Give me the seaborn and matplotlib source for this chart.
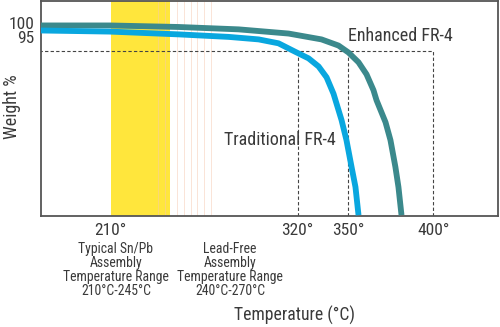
import matplotlib
matplotlib.use("Agg")
import matplotlib.pyplot as plt
import seaborn as sns
import pandas as pd

# Data
trad_temp = [168.2, 209.4, 250.0, 279.4, 297.1, 308.8, 318.2, 326.5, 332.4, 337.1,
             341.2, 345.9, 348.8, 351.8, 354.1, 355.9]
trad_weight = [97.5, 97.1, 96.1, 95.2, 94.3, 92.9, 90.0, 87.5, 84.6, 80.7,
               74.8, 65.4, 58.2, 48.6, 41.4, 31.3]
enh_temp = [168.2, 209.4, 250.0, 285.3, 314.7, 334.1, 344.1, 350.0, 355.9, 360.6,
            364.7, 366.5, 371.8, 374.7, 377.6, 379.4, 381.2]
enh_weight = [99.3, 99.3, 98.75, 97.9, 96.4, 94.3, 92.1, 89.6, 86.1, 81.8,
              76.1, 72.5, 64.6, 58.2, 48.6, 41.4, 31.3]
snpb_range = [210, 245]
leadfree_lines = [238, 242, 249, 253, 257, 261, 265, 269]
ref_weight = 90
ref_temps = [320, 350, 400]
xticks = [210, 320, 350, 400]
xtick_labels = ["210°", "320°", "350°", "400°"]
yticks = [100, 95]
ytick_labels = ["100", "95"]

sns.set_theme(style="white")
plt.rcParams['font.family'] = ['Roboto Condensed', 'Liberation Sans Narrow', 'Roboto', 'DejaVu Sans']

fig = plt.figure(figsize=(5, 3.27), dpi=100)
ax = fig.add_axes([0.082, 0.3394, 0.914, 0.657])

TEXT = "#3a3a3a"
ax.axvspan(snpb_range[0], snpb_range[1], color="#FFE63C", lw=0, zorder=1)
for t in leadfree_lines:
    ax.axvline(t, color="#F6C9B0", lw=0.7, alpha=0.5, zorder=1.5)

ax.plot([168, max(ref_temps)], [ref_weight, ref_weight], ls=(0, (3, 2)), color="#444444", lw=0.8, zorder=2)
for t in ref_temps:
    ax.plot([t, t], [31, ref_weight], ls=(0, (3, 2)), color="#444444", lw=0.8, zorder=2)

df_t = pd.DataFrame({"temp": trad_temp, "weight": trad_weight})
df_e = pd.DataFrame({"temp": enh_temp, "weight": enh_weight})
sns.lineplot(data=df_e, x="temp", y="weight", ax=ax, color="#3B898C", lw=4.2, zorder=3,
             solid_capstyle="butt", solid_joinstyle="round", sort=False)
sns.lineplot(data=df_t, x="temp", y="weight", ax=ax, color="#09A7DF", lw=4.2, zorder=4,
             solid_capstyle="butt", solid_joinstyle="round", sort=False)

ax.set_xlim(169, 438)
ax.set_ylim(31, 108)
ax.set_xticks(xticks)
ax.set_xticklabels(xtick_labels, fontsize=12.5, color=TEXT)
ax.set_yticks(yticks)
ax.set_yticklabels(ytick_labels, fontsize=12.5, color=TEXT)
ax.tick_params(length=0, pad=5)
ax.set_xlabel("")
ax.set_ylabel("")
for s in ax.spines.values():
    s.set_color("#555555")
    s.set_linewidth(1.3)
    s.set_visible(True)

ax.text(349.5, 95.4, "Enhanced FR-4", fontsize=13, color=TEXT, ha="left", va="center")
ax.text(277, 58.2, "Traditional FR-4", fontsize=13, color=TEXT, ha="left", va="center")

fig.text(116 / 500, 1 - 270 / 327, "Typical Sn/Pb\nAssembly\nTemperature Range\n210°C-245°C",
         ha="center", va="center", fontsize=9.9, color=TEXT, linespacing=0.98)
fig.text(230 / 500, 1 - 270 / 327, "Lead-Free\nAssembly\nTemperature Range\n240°C-270°C",
         ha="center", va="center", fontsize=9.9, color=TEXT, linespacing=0.98)
fig.text(295 / 500, 1 - 315 / 327, "Temperature (°C)", ha="center", va="center", fontsize=12.7, color=TEXT)
fig.text(12 / 500, 1 - 107 / 327, "Weight %", ha="center", va="center", rotation=90, fontsize=13, color=TEXT)

fig.savefig("out.png", dpi=100)
